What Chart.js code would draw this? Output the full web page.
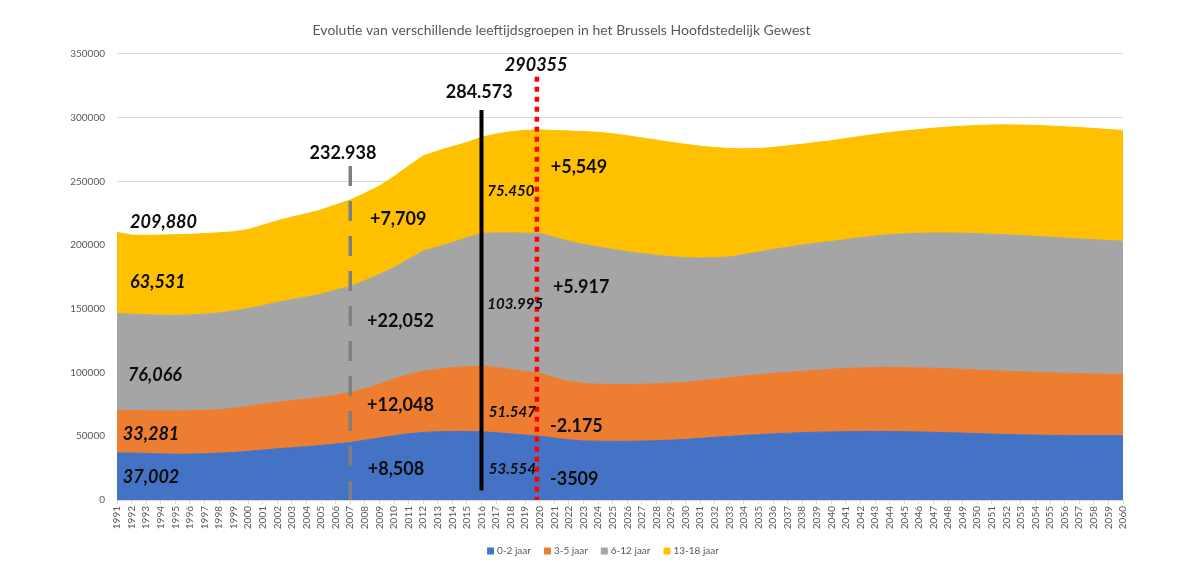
<!DOCTYPE html>
<html>
<head>
<meta charset="utf-8">
<title>Evolutie leeftijdsgroepen Brussel</title>
<script src="https://cdn.jsdelivr.net/npm/chart.js@4.4.1/dist/chart.umd.min.js"></script>
<style>
  body { margin: 0; background: #fff; }
</style>
</head>
<body>
<canvas id="ageChart" width="1200" height="568"></canvas>
<script>
// Years on the x axis
const years = Array.from({ length: 70 }, (_, i) => String(1991 + i));

// Population per age group
const age0to2 = [
  37002, 36800, 36500, 36200, 35900, 36000, 36300, 36800, 37300, 38200,
  39200, 40200, 41000, 41800, 42800, 44000, 45046, 46900, 48600, 50400,
  52000, 53000, 53600, 53800, 53700, 53554, 52800, 51900, 51000, 50045,
  48600, 47200, 46400, 46100, 46000, 46000, 46200, 46500, 47000, 47600,
  48400, 49200, 49900, 50600, 51300, 51900, 52400, 52800, 53200, 53400,
  53600, 53700, 53800, 53700, 53600, 53400, 53100, 52800, 52500, 52100,
  51700, 51400, 51100, 50900, 50700, 50600, 50500, 50500, 50500, 50500
];
const age3to5 = [
  33281, 33400, 33500, 33700, 33900, 34000, 34100, 34200, 34700, 35300,
  36000, 36600, 37000, 37400, 37700, 38300, 39499, 40400, 42100, 44600,
  46500, 48100, 49000, 50000, 50800, 51547, 51200, 50600, 50000, 49372,
  47400, 45800, 45100, 44700, 44600, 44600, 44600, 44700, 44700, 44700,
  45100, 45600, 46100, 46600, 47000, 47400, 47800, 48200, 48600, 49200,
  49600, 50000, 50100, 50300, 50300, 50300, 50300, 50200, 50100, 49900,
  49800, 49600, 49500, 49300, 49100, 48800, 48600, 48300, 48100, 48100
];
const age6to12 = [
  76066, 75600, 75300, 75100, 75000, 75200, 75400, 75800, 76200, 76700,
  77300, 78200, 79300, 80100, 81000, 82500, 83000, 84800, 86300, 87300,
  90300, 94200, 95900, 98200, 101300, 103995, 105500, 107000, 108300, 109912,
  110000, 110000, 109000, 107700, 105900, 104200, 102500, 100800, 99100, 97700,
  96300, 95200, 94600, 95300, 96200, 97200, 98100, 99000, 99700, 100200,
  101100, 102100, 103100, 104200, 104900, 105500, 106000, 106400, 106700, 106900,
  107000, 107000, 106800, 106600, 106400, 106100, 105700, 105400, 105000, 104400
];
const age13to18 = [
  63531, 62000, 62300, 62800, 63300, 63200, 63200, 62800, 62200, 62000,
  63000, 64000, 64700, 65200, 66000, 66700, 67741, 68500, 69300, 71400,
  73200, 74600, 75300, 75200, 74600, 75450, 77500, 79300, 80700, 80999,
  83800, 86500, 88500, 89900, 90800, 91000, 90700, 90300, 89700, 89000,
  87700, 86500, 85200, 83000, 81300, 80000, 79500, 79000, 79000, 79000,
  79200, 79400, 79800, 80000, 80700, 81400, 82200, 83100, 83900, 84900,
  85700, 86300, 86700, 87000, 87100, 87300, 87400, 87200, 87000, 86900
];

const seriesNames = ['0-2 jaar', '3-5 jaar', '6-12 jaar', '13-18 jaar'];
const seriesColors = ['#4472C4', '#ED7D31', '#A5A5A5', '#FFC000'];

// Vertical marker lines (x = category index, from/to = y values)
const markerLines = [
  { x: 16, from: 262000, to: 0, color: '#7F7F7F', width: 3.5, dash: [20, 15] },
  { x: 25, from: 306000, to: 7500, color: '#000000', width: 4, dash: [] },
  { x: 28.8, from: 332000, to: 0, color: '#FF0000', width: 4.5, dash: [5, 5] }
];

// Text labels placed in data coordinates
const B = 'bold 18px Lato', BI = 'italic bold 18px Lato', SI = 'italic bold 15px Lato';
const notes = [
  { text: '209,880', x: 0.9, y: 218000, font: BI },
  { text: '63,531', x: 0.9, y: 171000, font: BI },
  { text: '76,066', x: 0.75, y: 98000, font: BI },
  { text: '33,281', x: 0.4, y: 52000, font: BI },
  { text: '37,002', x: 0.4, y: 18000, font: BI },
  { text: '232.938', x: 15.5, y: 272000, font: B, align: 'center' },
  { text: '+7,709', x: 17.35, y: 220000, font: B },
  { text: '+22,052', x: 17.15, y: 140000, font: B },
  { text: '+12,048', x: 17.15, y: 74000, font: B },
  { text: '+8,508', x: 17.2, y: 24000, font: B },
  { text: '284.573', x: 22.55, y: 320000, font: B },
  { text: '290355', x: 26.6, y: 341000, font: BI },
  { text: '+5,549', x: 29.75, y: 261000, font: B },
  { text: '75.450', x: 25.4, y: 242000, font: SI },
  { text: '103.995', x: 25.4, y: 154000, font: SI },
  { text: '+5.917', x: 29.9, y: 167000, font: B },
  { text: '51.547', x: 25.5, y: 69000, font: SI },
  { text: '-2.175', x: 29.7, y: 58000, font: B },
  { text: '53.554', x: 25.5, y: 24000, font: SI },
  { text: '-3509', x: 29.7, y: 16000, font: B }
];

const annotationPlugin = {
  id: 'annotations',
  afterDatasetsDraw(chart) {
    const { ctx, scales: { x, y } } = chart;
    ctx.save();
    markerLines.forEach(l => {
      const px = x.getPixelForValue(l.x);
      ctx.beginPath();
      ctx.strokeStyle = l.color;
      ctx.lineWidth = l.width;
      ctx.setLineDash(l.dash);
      ctx.moveTo(px, y.getPixelForValue(l.from));
      ctx.lineTo(px, y.getPixelForValue(l.to));
      ctx.stroke();
    });
    ctx.setLineDash([]);
    ctx.fillStyle = '#0D0D0D';
    ctx.textBaseline = 'middle';
    notes.forEach(n => {
      ctx.font = n.font;
      ctx.textAlign = n.align || 'left';
      ctx.fillText(n.text, x.getPixelForValue(n.x), y.getPixelForValue(n.y));
    });
    ctx.restore();
  }
};

// Legend drawn centred under the chart
const legendPlugin = {
  id: 'bottomLegend',
  afterDraw(chart) {
    const ctx = chart.ctx;
    const box = 7, gapText = 3, gapItem = 13, cy = 551;
    ctx.save();
    ctx.font = '10px Lato';
    ctx.textBaseline = 'middle';
    ctx.textAlign = 'left';
    const items = chart.data.datasets.map(d => ({
      label: d.label, color: d.backgroundColor, w: ctx.measureText(d.label).width
    }));
    const total = items.reduce((s, it) => s + box + gapText + it.w, 0) + gapItem * (items.length - 1);
    let cx = 603 - total / 2;
    items.forEach(it => {
      ctx.fillStyle = it.color;
      ctx.fillRect(cx, cy - box / 2, box, box);
      cx += box + gapText;
      ctx.fillStyle = '#595959';
      ctx.fillText(it.label, cx, cy);
      cx += it.w + gapItem;
    });
    ctx.restore();
  }
};

Chart.defaults.font.family = 'Lato';
Chart.defaults.color = '#595959';

const seriesData = [age0to2, age3to5, age6to12, age13to18];

const ctx = document.getElementById('ageChart').getContext('2d');
new Chart(ctx, {
  type: 'line',
  data: {
    labels: years,
    datasets: seriesData.map((vals, i) => ({
      label: seriesNames[i],
      data: vals,
      backgroundColor: seriesColors[i],
      borderColor: seriesColors[i],
      borderWidth: 1,
      pointRadius: 0,
      tension: 0,
      fill: i === 0 ? 'origin' : '-1'
    }))
  },
  options: {
    responsive: false,
    animation: false,
    layout: { padding: { left: 0, right: 77, top: 0, bottom: 34 } },
    plugins: {
      legend: { display: false },
      tooltip: { enabled: false },
      title: {
        display: true,
        text: 'Evolutie van verschillende leeftijdsgroepen in het Brussels Hoofdstedelijk Gewest',
        color: '#595959',
        font: { size: 14, weight: 'normal' },
        padding: { top: 22, bottom: 15 }
      }
    },
    scales: {
      x: {
        grid: { drawOnChartArea: false, color: '#D9D9D9', tickLength: 4 },
        border: { color: '#D9D9D9' },
        ticks: { autoSkip: false, minRotation: 90, maxRotation: 90, font: { size: 10 }, padding: 2 },
        afterFit: s => { s.height = 34; }
      },
      y: {
        stacked: true,
        min: 0,
        max: 350000,
        grid: { color: '#D9D9D9', drawTicks: false },
        border: { display: false },
        ticks: { stepSize: 50000, font: { size: 10 }, padding: 12, callback: v => String(v) },
        afterFit: s => { s.width = 117; }
      }
    }
  },
  plugins: [annotationPlugin, legendPlugin]
});
</script>
</body>
</html>
